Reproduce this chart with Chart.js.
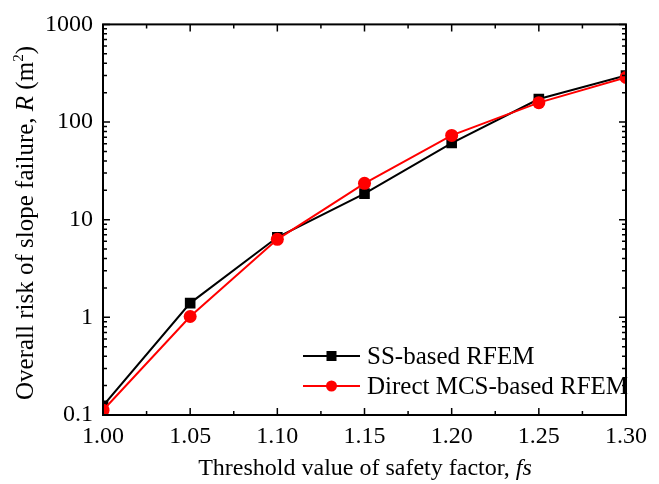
<!DOCTYPE html>
<html><head><meta charset="utf-8">
<script src="https://cdn.jsdelivr.net/npm/chart.js@4"></script>
<style>html,body{margin:0;padding:0;background:#fff}#wrap{width:659px;height:484px}</style>
</head><body><div id="wrap"><canvas id="c" width="659" height="484"></canvas></div>
<script>
const fsValues = [1.00, 1.05, 1.10, 1.15, 1.20, 1.25, 1.30];
const ssRisk = [0.124, 1.4, 6.6, 18.5, 61, 172, 300];
const mcsRisk = [0.112, 1.02, 6.3, 23.6, 73, 158, 286];
const xTickValues = [1.00, 1.05, 1.10, 1.15, 1.20, 1.25, 1.30];
const yTickValues = [0.1, 1, 10, 100, 1000];
const seriesLabels = ['SS-based RFEM', 'Direct MCS-based RFEM'];
const xTitleMain = 'Threshold value of safety factor, ';
const xTitleItalic = 'fs';
const yTitleParts = ['Overall risk of slope failure, ', 'R', ' (m', '2', ')'];

const FONT = '"Liberation Serif", "Times New Roman", serif';

const framePlugin = {
  id: 'frame',
  afterDraw(chart) {
    const ctx = chart.ctx, a = chart.chartArea;
    const xs = chart.scales.x, ys = chart.scales.y;
    ctx.save();
    ctx.strokeStyle = '#000';
    ctx.lineWidth = 2;
    ctx.strokeRect(a.left, a.top, a.right - a.left, a.bottom - a.top);
    ctx.lineWidth = 1.5;
    ctx.beginPath();
    for (let i = 0; i < xTickValues.length; i++) {
      const px = xs.getPixelForValue(xTickValues[i]);
      ctx.moveTo(px, a.bottom); ctx.lineTo(px, a.bottom - 7);
      ctx.moveTo(px, a.top); ctx.lineTo(px, a.top + 7);
      if (i < xTickValues.length - 1) {
        const pm = xs.getPixelForValue((xTickValues[i] + xTickValues[i + 1]) / 2);
        ctx.moveTo(pm, a.bottom); ctx.lineTo(pm, a.bottom - 4);
        ctx.moveTo(pm, a.top); ctx.lineTo(pm, a.top + 4);
      }
    }
    for (let i = 0; i < yTickValues.length; i++) {
      const py = ys.getPixelForValue(yTickValues[i]);
      ctx.moveTo(a.left, py); ctx.lineTo(a.left + 7, py);
      ctx.moveTo(a.right, py); ctx.lineTo(a.right - 7, py);
      if (i < yTickValues.length - 1) {
        for (let m = 2; m <= 9; m++) {
          const pm = ys.getPixelForValue(yTickValues[i] * m);
          ctx.moveTo(a.left, pm); ctx.lineTo(a.left + 4, pm);
          ctx.moveTo(a.right, pm); ctx.lineTo(a.right - 4, pm);
        }
      }
    }
    ctx.stroke();

    // x title
    ctx.fillStyle = '#000';
    ctx.textBaseline = 'alphabetic';
    ctx.font = '24px ' + FONT;
    const w1 = ctx.measureText(xTitleMain).width;
    ctx.font = 'italic 24px ' + FONT;
    const w2 = ctx.measureText(xTitleItalic).width;
    const cx = 365;
    let sx = cx - (w1 + w2) / 2;
    ctx.font = '24px ' + FONT;
    ctx.textAlign = 'left';
    ctx.fillText(xTitleMain, sx, 475);
    ctx.font = 'italic 24px ' + FONT;
    ctx.fillText(xTitleItalic, sx + w1, 475);

    // y title
    ctx.save();
    ctx.translate(33, 223);
    ctx.rotate(-Math.PI / 2);
    const fonts = ['25px ' + FONT, 'italic 25px ' + FONT, '25px ' + FONT, '15px ' + FONT, '25px ' + FONT];
    const offs = [0, 0, 0, -10, 0];
    const widths = yTitleParts.map((t, i) => { ctx.font = fonts[i]; return ctx.measureText(t).width; });
    const total = widths.reduce((s, v) => s + v, 0);
    let px = -total / 2;
    yTitleParts.forEach((t, i) => {
      ctx.font = fonts[i];
      ctx.fillText(t, px, offs[i]);
      px += widths[i];
    });
    ctx.restore();

    // legend
    const rows = [356, 386];
    const colors = ['#000000', '#ff0000'];
    ctx.font = '25px ' + FONT;
    ctx.textBaseline = 'middle';
    for (let i = 0; i < 2; i++) {
      const y = rows[i];
      ctx.strokeStyle = colors[i];
      ctx.lineWidth = 2;
      ctx.beginPath(); ctx.moveTo(303, y); ctx.lineTo(360, y); ctx.stroke();
      ctx.fillStyle = colors[i];
      if (i === 0) ctx.fillRect(331.5 - 5, y - 5, 10, 10);
      else { ctx.beginPath(); ctx.arc(331.5, y, 5.5, 0, Math.PI * 2); ctx.fill(); }
      ctx.fillStyle = '#000';
      ctx.fillText(seriesLabels[i], 367, y + 1);
    }
    ctx.restore();
  }
};

new Chart(document.getElementById('c'), {
  type: 'line',
  data: {
    datasets: [
      {
        label: seriesLabels[0],
        data: fsValues.map((x, i) => ({ x, y: ssRisk[i] })),
        borderColor: '#000', backgroundColor: '#000', borderWidth: 2,
        pointStyle: 'rect', pointRadius: 7.5, pointBackgroundColor: '#000', pointBorderWidth: 0,
        order: 1, tension: 0
      },
      {
        label: seriesLabels[1],
        data: fsValues.map((x, i) => ({ x, y: mcsRisk[i] })),
        borderColor: '#ff0000', backgroundColor: '#ff0000', borderWidth: 2,
        pointStyle: 'circle', pointRadius: 6.5, pointBackgroundColor: '#ff0000', pointBorderWidth: 0,
        order: 0, tension: 0
      }
    ]
  },
  options: {
    responsive: false, animation: false,
    layout: { padding: { top: 24, right: 33, left: 0, bottom: 0 } },
    plugins: { legend: { display: false }, tooltip: { enabled: false } },
    scales: {
      x: {
        type: 'linear', min: 1.0, max: 1.3,
        afterBuildTicks: s => { s.ticks = xTickValues.map(v => ({ value: v })); },
        afterFit: s => { s.height = 69; },
        grid: { display: true, drawOnChartArea: false, drawTicks: false },
        border: { display: false },
        ticks: { color: '#000', padding: 7, maxRotation: 0, font: { family: FONT, size: 24 },
          callback: v => Number(v).toFixed(2) }
      },
      y: {
        type: 'logarithmic', min: 0.1, max: 1000,
        afterBuildTicks: s => { s.ticks = yTickValues.map(v => ({ value: v })); },
        afterFit: s => { s.width = 103; },
        grid: { display: true, drawOnChartArea: false, drawTicks: false },
        border: { display: false },
        ticks: { color: '#000', padding: 10, font: { family: FONT, size: 24 },
          callback: v => String(v) }
      }
    }
  },
  plugins: [framePlugin]
});
</script>
</body></html>
